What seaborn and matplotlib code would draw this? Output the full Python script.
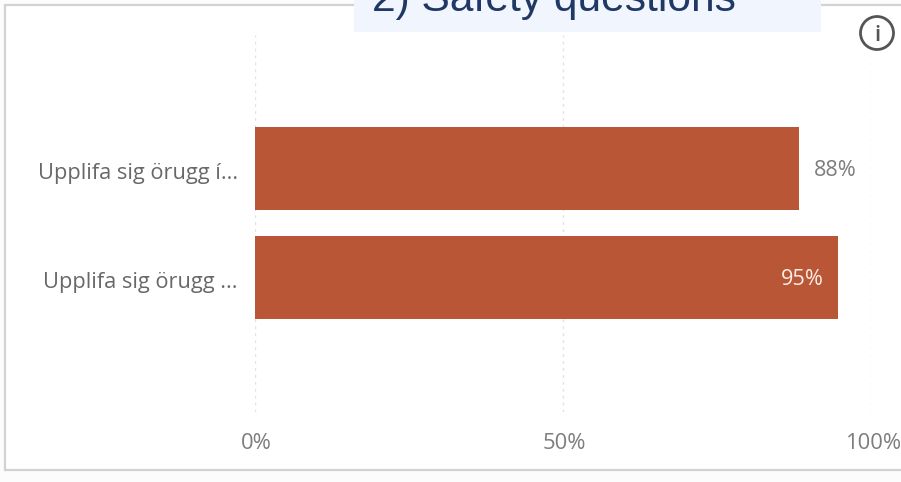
import matplotlib
matplotlib.use("Agg")
import matplotlib.pyplot as plt
from matplotlib.patches import Rectangle, Circle
from matplotlib.transforms import IdentityTransform, ScaledTranslation
import pandas as pd
import seaborn as sns

categories = ["Upplifa sig örugg í...", "Upplifa sig örugg ..."]
values = [88.3, 94.6]
value_labels = ["88%", "95%"]
ticks = [0, 50, 100]
tick_labels = ["0%", "50%", "100%"]

W, H = 901, 482

sns.set_theme(style="white")
plt.rcParams["font.family"] = ["Open Sans", "DejaVu Sans"]

fig = plt.figure(figsize=(W / 100, H / 100), dpi=100, facecolor="#fbfcfb")


# pixel coords (y from the top) to figure fraction
def fx(px):
    return px / W


def fy(py):
    return 1 - py / H


# card behind the chart
fig.add_artist(Rectangle((fx(5), fy(470)), fx(W + 10) - fx(5), fy(5) - fy(470),
                         transform=fig.transFigure, facecolor="white",
                         edgecolor="#d2d2d2", linewidth=1.6, zorder=-1))

ax = fig.add_axes([fx(254.5), fy(412), fx(871) - fx(254.5), fy(35) - fy(412)])
ax.patch.set_alpha(0)

df = pd.DataFrame({"label": categories, "value": values})
sns.barplot(data=df, x="value", y="label", orient="h", color="#b95636",
            saturation=1, width=0.76, linewidth=0, ax=ax, zorder=3)

ax.set_xlim(0, 100)
ax.set_ylim(2.234, -1.225)
ax.set_xticks(ticks)
ax.set_xticklabels(tick_labels, fontsize=15.8, color="#7d7d7d")
ax.tick_params(axis="x", length=0, pad=15)
ax.tick_params(axis="y", length=0, pad=12, labelsize=15.7, labelcolor="#686868")
ax.set_xlabel("")
ax.set_ylabel("")
for s in ax.spines.values():
    s.set_visible(False)
ax.grid(axis="x", color="#e2e2e2", linestyle=(0, (2, 3)), linewidth=1, zorder=0)

# nudge labels a couple of pixels, Open Sans sits higher than the original font
for lab in ax.get_yticklabels():
    lab.set_transform(lab.get_transform() + ScaledTranslation(0, -2 / 100, fig.dpi_scale_trans))
for lab in ax.get_xticklabels():
    lab.set_transform(lab.get_transform() + ScaledTranslation(2 / 100, 0, fig.dpi_scale_trans))

# value labels
ax.text(values[0] + 2.4, 0.02, value_labels[0], va="center", ha="left",
        fontsize=15.6, color="#7d7d7d", zorder=4)
ax.text(values[1] - 2.3, 1.02, value_labels[1], va="center", ha="right",
        fontsize=15.6, color="#fbeee6", zorder=4)

# title box pasted over the top of the card, text cut off by the image edge
fig.add_artist(Rectangle((fx(354), fy(32)), fx(821) - fx(354), fy(0) - fy(32),
                         transform=fig.transFigure, facecolor="#f0f5fe",
                         edgecolor="none", zorder=5))
fig.text(fx(372), fy(11), "2) Safety questions", fontsize=30.6, color="#1f3864",
         family="Liberation Sans", ha="left", va="baseline", zorder=6)

# info icon
fig.add_artist(Circle((877, H - 33), 16.5, transform=IdentityTransform(),
                      facecolor="white", edgecolor="#555555", linewidth=2, zorder=5))
fig.text(fx(877), fy(41), "i", fontsize=16, fontweight="semibold", color="#555555",
         ha="center", va="baseline", zorder=6)

plt.savefig("out.png", dpi=100, facecolor=fig.get_facecolor())
